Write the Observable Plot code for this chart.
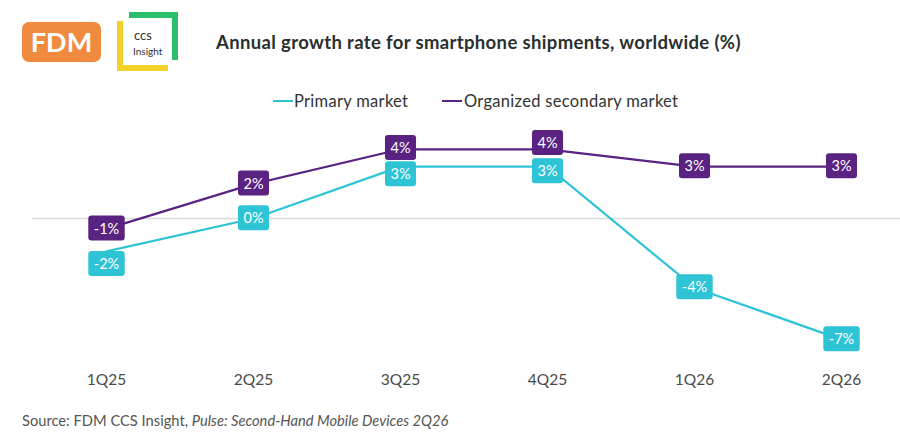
<!DOCTYPE html>
<html>
<head>
<meta charset="utf-8">
<script src="https://cdn.jsdelivr.net/npm/d3@7"></script>
<script src="https://cdn.jsdelivr.net/npm/@observablehq/plot@0.6"></script>
<style>
  html, body { margin: 0; padding: 0; background: #fff; }
  #wrap { position: relative; width: 900px; height: 447px; font-family: Lato, "Open Sans", sans-serif; overflow: hidden; }
  #fdm { position: absolute; left: 22px; top: 22px; width: 79px; height: 40px; background: #F08A3E; border-radius: 7px;
         color: #fff; font-weight: 700; font-size: 27px; line-height: 40px; text-align: center; letter-spacing: 0px; }
  #ccs { position: absolute; left: 116px; top: 11px; }
  #title { position: absolute; left: 216px; top: 31px; font-size: 18.5px; letter-spacing: 0.35px; font-weight: 700; color: #2a2f2f; white-space: nowrap; }
  #legend { position: absolute; top: 90px; left: 0; width: 900px; height: 22px; font-size: 16.5px; letter-spacing: 0.3px; color: #333; }
  .sw { position: absolute; top: 10px; height: 2px; width: 20px; }
  .lt { position: absolute; top: 0; line-height: 22px; white-space: nowrap; }
  #chart { position: absolute; left: 0; top: 115px; }
  #source { position: absolute; left: 22px; top: 411px; font-size: 14.7px; color: #555; white-space: nowrap; }
</style>
</head>
<body>
<div id="wrap">
  <div id="fdm">FDM</div>
  <svg id="ccs" width="64" height="62" viewBox="0 0 64 62">
    <path d="M4 10 L4 57 L52 57" fill="none" stroke="#F3D22B" stroke-width="6"/>
    <path d="M13 4 L59 4 L59 49" fill="none" stroke="#2CBF6B" stroke-width="6"/>
    <rect x="7" y="7" width="49" height="47" fill="#fff"/>
    <text x="18" y="29" font-family="Lato, sans-serif" font-size="13" fill="#333">ccs</text>
    <text x="17" y="44" font-family="Lato, sans-serif" font-size="10" fill="#333">Insight</text>
  </svg>
  <div id="title">Annual growth rate for smartphone shipments, worldwide (%)</div>
  <div id="legend">
    <div class="sw" style="left:273px;background:#2EC3D5"></div>
    <div class="lt" style="left:294px">Primary market</div>
    <div class="sw" style="left:442px;background:#5A2382"></div>
    <div class="lt" style="left:464px">Organized secondary market</div>
  </div>
  <div id="chart"></div>
  <div id="source">Source: FDM CCS Insight, <i>Pulse: Second-Hand Mobile Devices 2Q26</i></div>
</div>
<script>
// ---- data ----
const quarters = ["1Q25", "2Q25", "3Q25", "4Q25", "1Q26", "2Q26"];
const primaryValues = [-1.9, 0, 3, 3, -4, -7];
const secondaryValues = [-0.6, 2, 4, 4, 3, 3];
const primaryLabels = ["-2%", "0%", "3%", "3%", "-4%", "-7%"];
const secondaryLabels = ["-1%", "2%", "4%", "4%", "3%", "3%"];

// ---- styling ----
const cyan = "#2EC3D5";
const purple = "#5A2382";
const primaryLabelShift = [13, 0, 8, 5, 0, 0];
const secondaryLabelShift = [0, 0, -1, -6, 0, 0];

const primaryRows = quarters.map((q, i) => ({quarter: q, value: primaryValues[i], label: primaryLabels[i]}));
const secondaryRows = quarters.map((q, i) => ({quarter: q, value: secondaryValues[i], label: secondaryLabels[i]}));

const chart = Plot.plot({
  width: 900,
  height: 285,
  marginLeft: 32,
  marginRight: 0,
  marginTop: 10,
  marginBottom: 30,
  style: {fontFamily: "Lato, sans-serif", color: "#4a4a4a", background: "transparent"},
  x: {type: "point", domain: quarters, range: [105, 841], padding: 0, label: null},
  y: {domain: [-8, 5], range: [241.4, 16.5], axis: null},
  marks: [
    Plot.ruleY([0], {stroke: "#dcdcdc", strokeWidth: 1.5}),
    Plot.axisX({tickSize: 0, tickPadding: 3, fontSize: 15.5, label: null}),
    Plot.line(primaryRows, {x: "quarter", y: "value", stroke: cyan, strokeWidth: 2.2}),
    Plot.line(secondaryRows, {x: "quarter", y: "value", stroke: purple, strokeWidth: 2.2}),
    Plot.text(primaryRows, {x: "quarter", y: "value", text: "label", fill: "white", fontSize: 14.5}),
    Plot.text(secondaryRows, {x: "quarter", y: "value", text: "label", fill: "white", fontSize: 14.5})
  ]
});
document.getElementById("chart").appendChild(chart);

// label boxes
const ns = "http://www.w3.org/2000/svg";
const groups = chart.querySelectorAll('g[aria-label="text"]');
const specs = [[cyan, primaryLabelShift], [purple, secondaryLabelShift]];
groups.forEach((g, k) => {
  if (!specs[k]) return;
  const [color, shifts] = specs[k];
  g.querySelectorAll("text").forEach((t, i) => {
    const prev = t.getAttribute("transform") || "";
    t.setAttribute("transform", (prev + ` translate(0,${shifts[i] || 0})`).trim());
    const b = t.getBBox();
    const r = document.createElementNS(ns, "rect");
    const h = 25;
    r.setAttribute("x", b.x - 5.5);
    r.setAttribute("y", b.y + b.height / 2 - h / 2);
    r.setAttribute("width", b.width + 11);
    r.setAttribute("height", h);
    r.setAttribute("rx", 3);
    r.setAttribute("fill", color);
    r.setAttribute("transform", t.getAttribute("transform"));
    g.insertBefore(r, t);
  });
});
</script>
</body>
</html>
